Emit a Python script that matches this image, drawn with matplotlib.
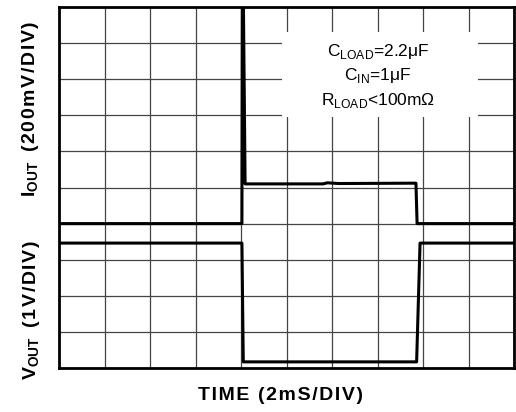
import matplotlib
matplotlib.use("Agg")
import matplotlib.pyplot as plt
from matplotlib.patches import Rectangle

# --- данные осциллограммы (время в мс, амплитуда в делениях) ---
iout_t = [0.0, 8.04, 8.06, 8.10, 8.18, 11.6, 11.8, 12.3, 15.69, 15.74, 20.0]
iout_div = [4.0, 4.0, 10.5, 10.5, 5.10, 5.10, 5.13, 5.11, 5.12, 4.0, 4.0]

vout_t = [0.0, 8.04, 8.10, 15.72, 15.87, 20.0]
vout_div = [3.46, 3.46, 0.17, 0.17, 3.46, 3.46]

x_ticks = [0, 2, 4, 6, 8, 10, 12, 14, 16, 18, 20]
y_ticks = [0, 1, 2, 3, 4, 5, 6, 7, 8, 9, 10]

notes = [r"C$_{\mathrm{LOAD}}$=2.2μF", r"C$_{\mathrm{IN}}$=1μF", r"R$_{\mathrm{LOAD}}$<100mΩ"]

HS = "\u200a"  # hair space - разрядка как в оригинале


def spaced(s):
    return HS.join(s)


plt.rcParams["font.family"] = ["Liberation Sans", "DejaVu Sans"]
plt.rcParams["mathtext.fontset"] = "custom"
plt.rcParams["mathtext.rm"] = "Liberation Sans"
plt.rcParams["mathtext.bf"] = "Liberation Sans:bold"

fig = plt.figure(figsize=(5.16, 4.12), dpi=100)
ax = fig.add_axes([59 / 516, 1 - 368 / 412, 455 / 516, 361 / 412])

ax.set_xlim(x_ticks[0], x_ticks[-1])
ax.set_ylim(y_ticks[0], y_ticks[-1])
ax.set_xticks(x_ticks)
ax.set_yticks(y_ticks)
ax.tick_params(length=0, labelbottom=False, labelleft=False)
ax.grid(True, color="#444444", linewidth=0.9)
for s in ax.spines.values():
    s.set_linewidth(2.0)
    s.set_zorder(5)

# белая подложка под подписью
ax.add_patch(Rectangle((0.49, 0.695), 0.43, 0.235, transform=ax.transAxes,
                       facecolor="white", edgecolor="none", zorder=2))
for i, txt in enumerate(notes):
    ax.text(0.701, 0.878 - i * 0.068, txt, transform=ax.transAxes, ha="center",
            va="center", fontsize=12.5, zorder=3)

ax.plot(iout_t, iout_div, color="black", linewidth=2.2, zorder=4)
ax.plot(vout_t, vout_div, color="black", linewidth=2.2, zorder=4)

fig.text(31 / 516, 1 - 109 / 412,
         r"$\mathbf{I}_{\mathbf{OUT}}$" + HS + HS + spaced(" (200mV/DIV)"),
         rotation=90, ha="center", va="center", fontsize=14, fontweight="bold")
fig.text(31 / 516, 1 - 310 / 412,
         r"$\mathbf{V}_{\mathbf{OUT}}$" + HS + HS + spaced(" (1V/DIV)"),
         rotation=90, ha="center", va="center", fontsize=14, fontweight="bold")
fig.text(281 / 516, 1 - 396 / 412, spaced("TIME (2mS/DIV)"), ha="center",
         va="center", fontsize=14, fontweight="bold")

fig.savefig("out.png", dpi=100)
